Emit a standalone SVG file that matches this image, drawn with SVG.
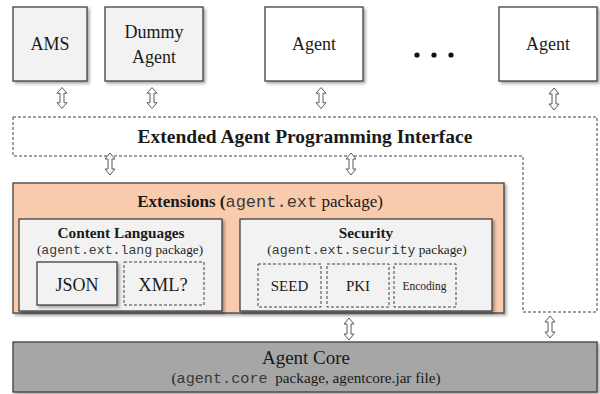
<svg xmlns="http://www.w3.org/2000/svg" xmlns:xlink="http://www.w3.org/1999/xlink" width="600" height="394" viewBox="0 0 600 394" font-family="Liberation Serif, Times New Roman, DejaVu Serif, serif">
<defs>
<filter id="sh" x="-10%" y="-10%" width="130%" height="130%">
<feDropShadow dx="2" dy="2" stdDeviation="1.5" flood-color="#000" flood-opacity="0.35"/>
</filter>
<path id="dbl" d="M0,-11 L5,-5 L2,-5 L2,5 L5,5 L0,11 L-5,5 L-2,5 L-2,-5 L-5,-5 Z"/>
</defs>
<style>
.box{stroke:#404040;stroke-width:1.3;filter:url(#sh)}
.gray{fill:#f2f2f2}
.white{fill:#ffffff}
.dash{fill:none;stroke:#404040;stroke-width:1;stroke-dasharray:3,2}
.dashbox{fill:#f2f2f2;stroke:#404040;stroke-width:1;stroke-dasharray:3,2}
.arr{fill:#ffffff;stroke:#595959;stroke-width:1}
.t{fill:#1a1a1a;text-anchor:middle}
.b{font-weight:bold}
.m{fill:#3a3a3a}
</style>

<g id="ams">
<rect class="box gray" x="13" y="7" width="74" height="74"/>
<text class="t" x="50" y="50" font-size="18">AMS</text>
</g>
<g id="dummy-agent">
<rect class="box gray" x="105" y="7" width="98" height="74"/>
<text class="t" x="154" y="38" font-size="18">Dummy</text>
<text class="t" x="154" y="63" font-size="18">Agent</text>
</g>
<g id="agent1">
<rect class="box white" x="265" y="7" width="98" height="74"/>
<text class="t" x="314" y="50" font-size="18">Agent</text>
</g>
<g id="ellipsis">
<circle cx="417" cy="55" r="2.6" fill="#111"/>
<circle cx="434" cy="55" r="2.6" fill="#111"/>
<circle cx="451" cy="55" r="2.6" fill="#111"/>
</g>
<g id="agent2">
<rect class="box white" x="499" y="7" width="98" height="74"/>
<text class="t" x="548" y="50" font-size="18">Agent</text>
</g>

<g id="api">
<path class="dash" d="M13,117 H597 V312 H523 V156 H13 Z"/>
<text class="t b" x="305" y="143" font-size="19.5">Extended Agent Programming Interface</text>
</g>

<g id="extensions">
<rect class="box" fill="#f8cbad" x="13" y="183" width="491" height="130"/>
<text class="t" x="260" y="207" font-size="17"><tspan class="b">Extensions (</tspan><tspan class="m" font-family="Liberation Mono, Courier New, monospace">agent.ext</tspan> package)</text>
</g>
<g id="content-languages">
<rect class="box gray" x="19" y="219" width="203" height="92"/>
<text class="t b" x="121" y="238" font-size="15.3">Content Languages</text>
<text class="t" x="120" y="254" font-size="13.2">(<tspan class="m" font-family="Liberation Mono, Courier New, monospace">agent.ext.lang</tspan> package)</text>
</g>
<g id="json">
<rect class="box gray" x="37" y="262" width="80" height="43"/>
<text class="t" x="77" y="291" font-size="18">JSON</text>
</g>
<g id="xml">
<rect class="dashbox" x="124" y="262" width="80" height="43"/>
<text class="t" x="163" y="291" font-size="18.5">XML?</text>
</g>
<g id="security">
<rect class="box gray" x="240" y="219" width="252" height="92"/>
<text class="t b" x="366" y="238" font-size="15.3">Security</text>
<text class="t" x="367" y="254" font-size="13.3">(<tspan class="m" font-family="Liberation Mono, Courier New, monospace">agent.ext.security</tspan> package)</text>
</g>
<g id="seed">
<rect class="dashbox" x="258" y="264" width="63" height="43"/>
<text class="t" x="289.5" y="291" font-size="15">SEED</text>
</g>
<g id="pki">
<rect class="dashbox" x="327" y="264" width="62" height="43"/>
<text class="t" x="358" y="291" font-size="15">PKI</text>
</g>
<g id="encoding">
<rect class="dashbox" x="394" y="264" width="62" height="43"/>
<text class="t" x="424.5" y="290" font-size="11.5">Encoding</text>
</g>

<g id="agent-core">
<rect class="box" fill="#a6a6a6" x="13" y="342" width="584" height="50"/>
<text class="t" x="306" y="364" font-size="19">Agent Core</text>
<text class="t" x="306" y="383" font-size="15.2" xml:space="preserve">(<tspan class="m" font-family="Liberation Mono, Courier New, monospace">agent.core</tspan>  package, agentcore.jar file)</text>
</g>

<g id="connectors">
<use xlink:href="#dbl" class="arr" transform="translate(62,98) scale(1,0.95)"/>
<use xlink:href="#dbl" class="arr" transform="translate(152,98) scale(1,0.95)"/>
<use xlink:href="#dbl" class="arr" transform="translate(321,98) scale(1,0.95)"/>
<use xlink:href="#dbl" class="arr" transform="translate(554,99)"/>
<use xlink:href="#dbl" class="arr" transform="translate(110,164)"/>
<use xlink:href="#dbl" class="arr" transform="translate(351,164)"/>
<use xlink:href="#dbl" class="arr" transform="translate(349,329)"/>
<use xlink:href="#dbl" class="arr" transform="translate(550,327)"/>
</g>
</svg>
